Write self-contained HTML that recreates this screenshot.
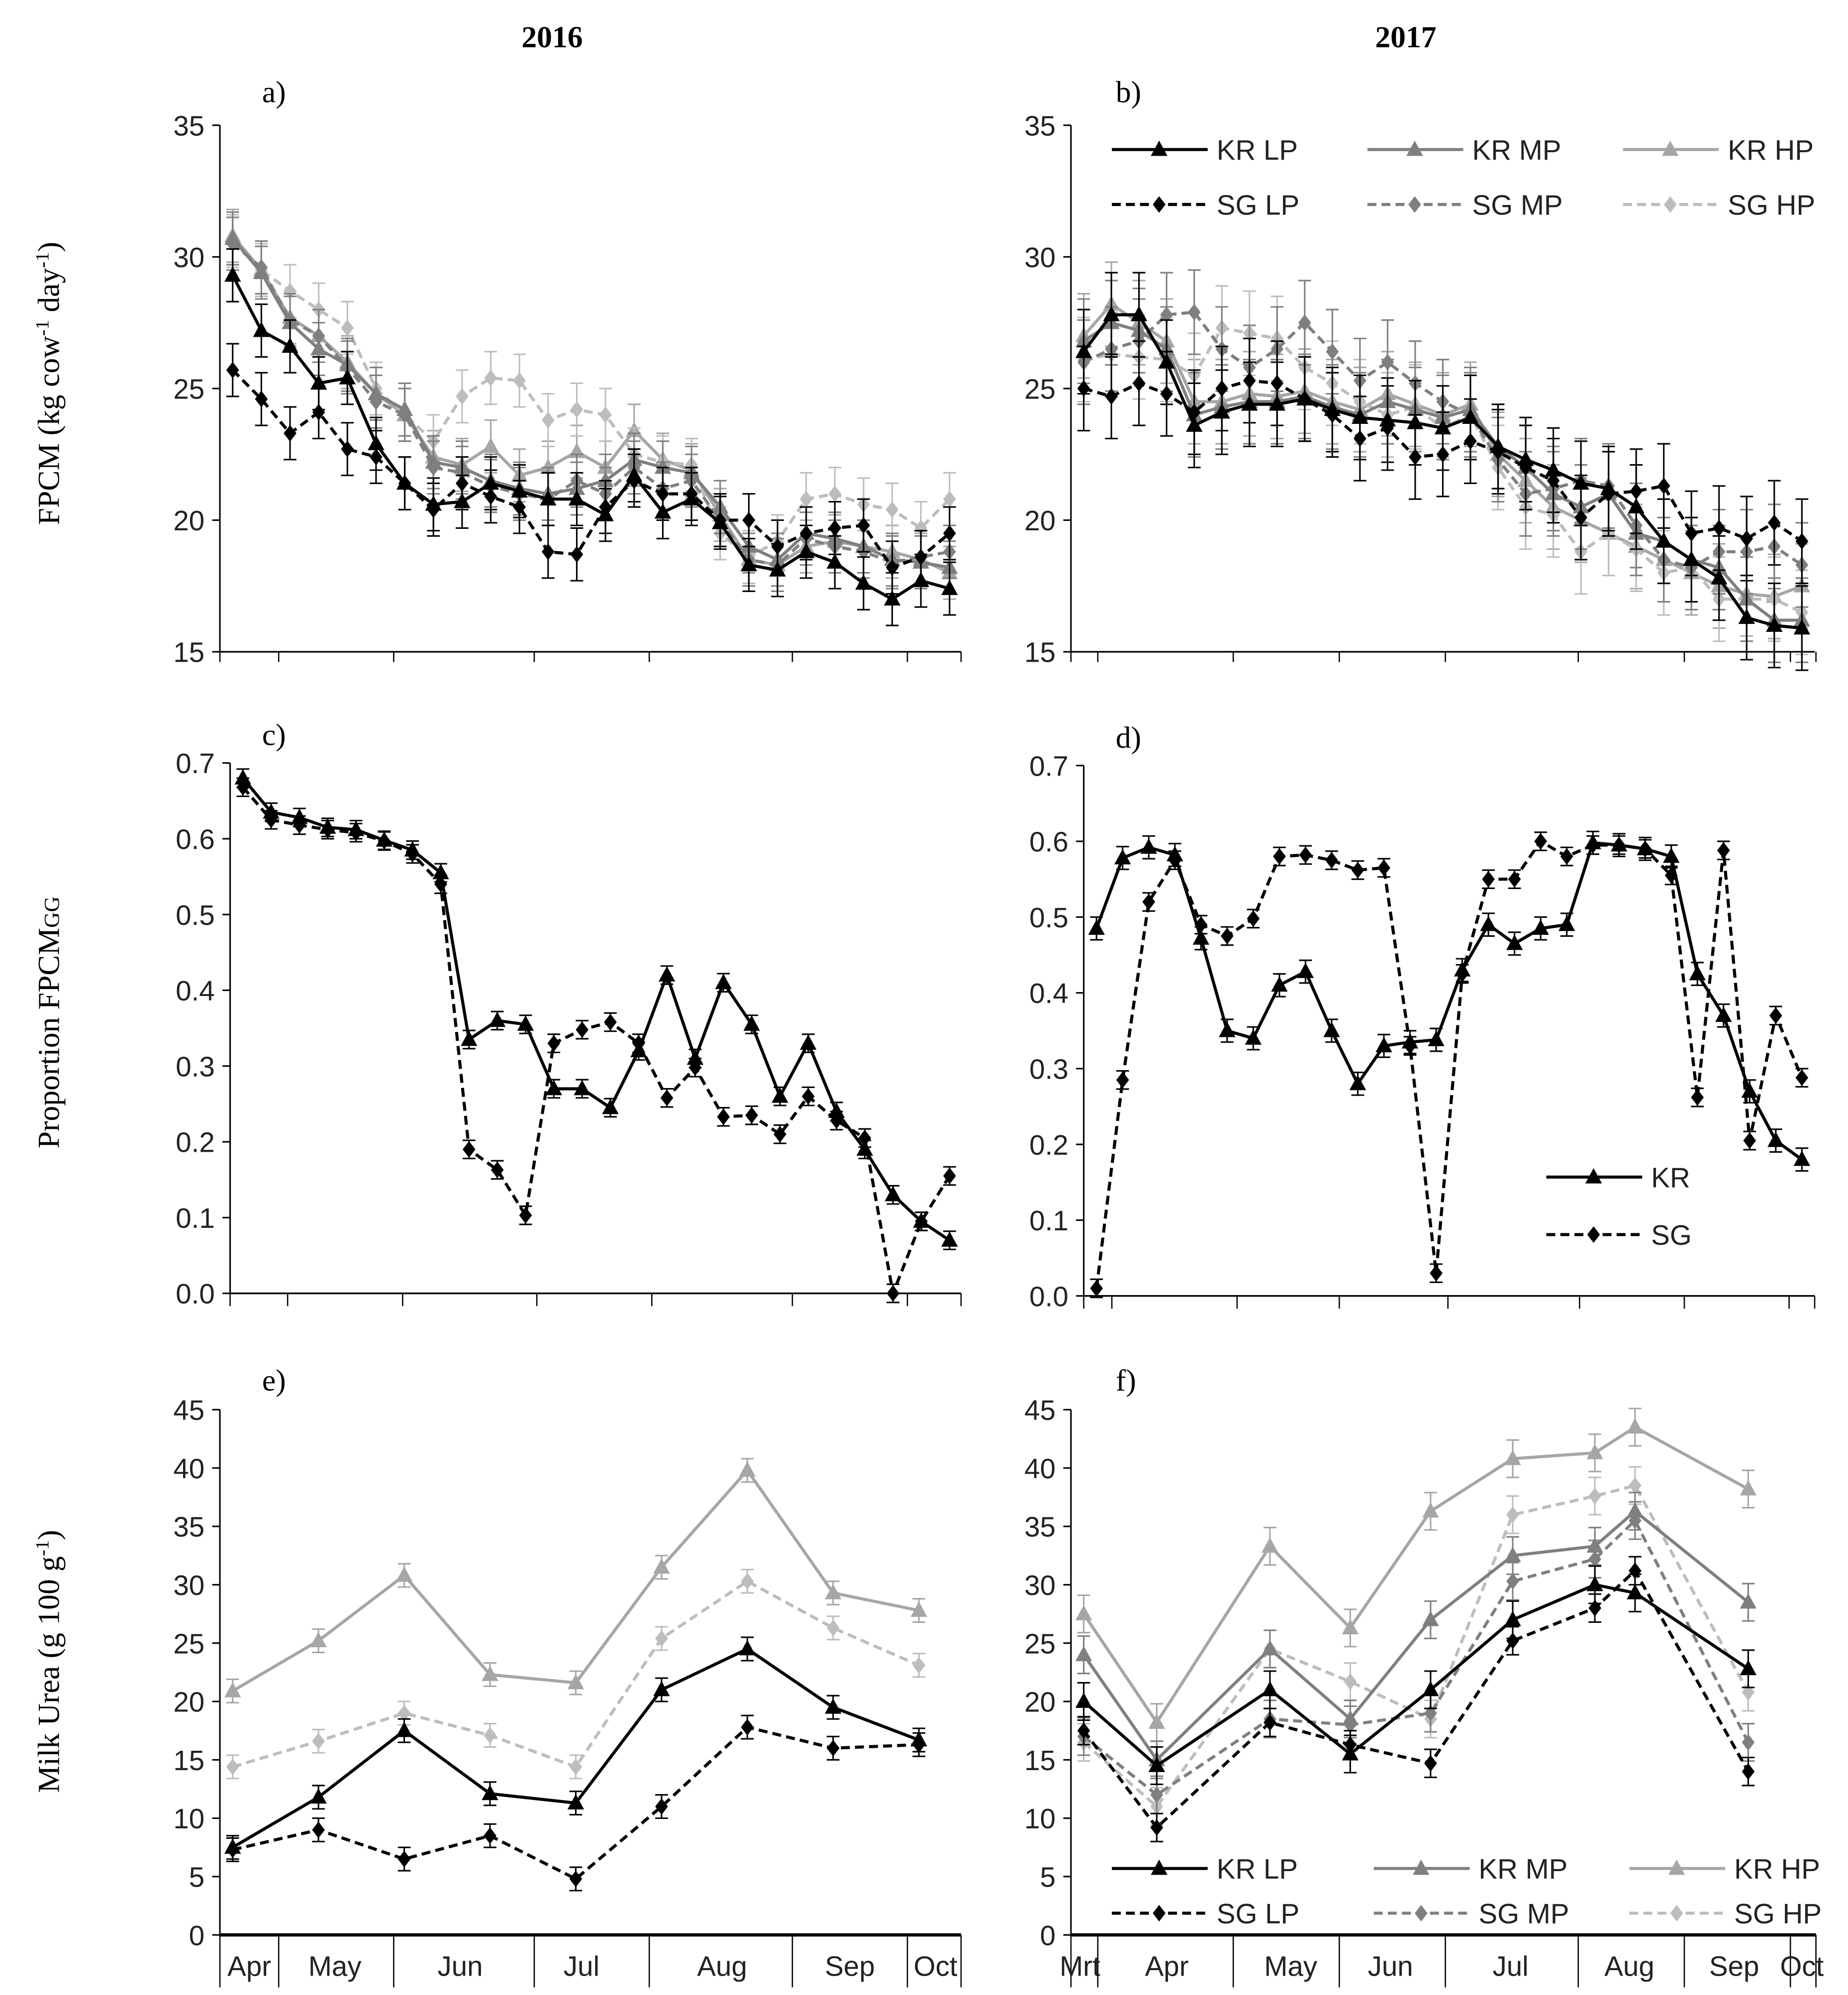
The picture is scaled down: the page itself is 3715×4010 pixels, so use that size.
<!DOCTYPE html>
<html><head><meta charset="utf-8"><style>
html,body{margin:0;padding:0;background:#fff}
svg{display:block}
text{font-family:"Liberation Sans",sans-serif}
.serif{font-family:"Liberation Serif",serif}
</style></head><body>
<svg id="fig" width="3715" height="4010" viewBox="0 0 1446 1561" xmlns="http://www.w3.org/2000/svg">
<rect width="1446" height="1561" fill="#fff"/>
<text class="serif" x="432" y="37" font-size="24" font-weight="bold" text-anchor="middle">2016</text>
<text class="serif" x="1100" y="37" font-size="24" font-weight="bold" text-anchor="middle">2017</text>
<text class="serif" x="205" y="80" font-size="24">a)</text>
<text class="serif" x="873" y="80" font-size="24">b)</text>
<text class="serif" x="205" y="583" font-size="24">c)</text>
<text class="serif" x="873" y="585" font-size="24">d)</text>
<text class="serif" x="205" y="1088" font-size="24">e)</text>
<text class="serif" x="873" y="1088" font-size="24">f)</text>
<text class="serif" transform="translate(46,300) rotate(-90)" font-size="24" text-anchor="middle">FPCM (kg cow<tspan baseline-shift="super" font-size="15">-1</tspan> day<tspan baseline-shift="super" font-size="15">-1</tspan>)</text>
<text class="serif" transform="translate(46,800) rotate(-90)" font-size="24" text-anchor="middle">Proportion FPCM<tspan font-size="17">GG</tspan></text>
<text class="serif" transform="translate(46,1300) rotate(-90)" font-size="24" text-anchor="middle">Milk Urea (g 100 g<tspan baseline-shift="super" font-size="15">-1</tspan>)</text>
</svg>
<script>
// ---- Panel a (2016 FPCM) ----
const aKRLP=[29.3,27.2,26.6,25.2,25.4,22.9,21.4,20.6,20.7,21.4,21.1,20.8,20.8,20.2,21.7,20.3,20.8,19.9,18.3,18.1,18.8,18.4,17.6,17.0,17.7,17.4];
const aKRMP=[30.7,29.4,27.5,26.5,25.9,24.8,24.2,22.2,22.0,21.5,21.2,21.0,21.2,21.5,22.3,22.0,21.8,20.5,19.0,18.5,19.5,19.3,19.0,18.5,18.4,18.2];
const aKRHP=[30.8,29.5,27.7,27.0,26.0,24.8,24.0,22.4,22.1,22.8,21.7,22.0,22.6,22.0,23.4,22.3,21.9,20.2,18.5,18.3,19.0,19.2,19.0,18.8,18.5,18.0];
const aSGLP=[25.7,24.6,23.3,24.1,22.7,22.4,21.4,20.4,21.4,20.9,20.5,18.8,18.7,20.5,21.5,21.0,21.0,20.0,20.0,19.0,19.5,19.7,19.8,18.2,18.6,19.5];
const aSGMP=[30.5,29.6,27.6,27.0,25.8,24.5,24.0,22.0,21.8,21.3,21.0,20.8,21.5,21.0,22.0,21.2,21.5,20.0,18.5,18.3,19.3,19.0,18.8,18.4,18.6,18.8];
const aSGHP=[30.6,29.5,28.7,28.0,27.3,25.0,24.0,23.0,24.7,25.4,25.3,23.8,24.2,24.0,22.5,22.2,22.1,19.5,18.6,19.2,20.8,21.0,20.6,20.4,19.7,20.8];
// ---- Panel b (2017 FPCM) ----
const bKRLP=[26.4,27.8,27.8,26.0,23.6,24.1,24.4,24.4,24.6,24.2,23.9,23.8,23.7,23.5,23.9,22.8,22.3,21.9,21.4,21.2,20.5,19.2,18.5,17.8,16.3,16.0,15.9];
const bKRMP=[26.8,27.5,27.2,26.5,24.0,24.3,24.5,24.5,24.7,24.3,24.0,24.5,24.2,23.9,24.2,22.8,22.0,21.0,20.5,21.0,19.5,19.2,18.5,18.2,17.0,16.2,16.2];
const bKRHP=[27.0,28.2,27.5,26.8,24.5,24.5,24.8,24.7,24.9,24.5,24.2,24.8,24.4,24.0,24.4,22.5,21.5,20.5,20.0,19.5,19.0,18.5,18.0,17.5,17.2,17.1,17.5];
const bSGLP=[25.0,24.7,25.2,24.8,24.1,25.0,25.3,25.2,24.6,24.0,23.1,23.5,22.4,22.5,23.0,22.6,22.0,21.5,20.1,21.0,21.1,21.3,19.5,19.7,19.3,19.9,19.2];
const bSGMP=[26.0,26.5,26.8,27.8,27.9,26.5,25.8,26.5,27.5,26.4,25.3,26.0,25.2,24.5,24.0,22.3,21.0,21.2,21.5,21.3,19.8,18.5,18.2,18.8,18.8,19.0,18.3];
const bSGHP=[26.1,26.3,26.2,26.1,25.5,27.3,27.1,26.9,25.8,25.2,24.5,24.0,24.3,23.5,24.0,22.0,20.5,20.2,18.8,19.5,18.9,18.0,18.2,17.0,17.0,17.0,16.5];
// ---- Panel c (2016 proportion) ----
const cKR=[0.68,0.635,0.628,0.615,0.612,0.598,0.585,0.555,0.335,0.36,0.355,0.27,0.27,0.245,0.32,0.42,0.31,0.41,0.355,0.26,0.33,0.24,0.19,0.13,0.095,0.07];
const cSG=[0.668,0.625,0.618,0.612,0.608,0.597,0.58,0.54,0.19,0.163,0.103,0.33,0.348,0.358,0.33,0.258,0.298,0.233,0.235,0.21,0.26,0.228,0.205,0.0,0.095,0.155];
// ---- Panel d (2017 proportion) ----
const dKR=[0.485,0.578,0.592,0.582,0.472,0.35,0.34,0.41,0.428,0.35,0.28,0.33,0.335,0.338,0.43,0.49,0.465,0.485,0.49,0.598,0.595,0.59,0.58,0.425,0.37,0.27,0.205,0.18];
const dSG=[0.01,0.285,0.52,0.575,0.49,0.475,0.498,0.58,0.582,0.575,0.562,0.565,0.33,0.03,0.425,0.55,0.55,0.6,0.58,0.595,0.595,0.59,0.555,0.262,0.588,0.205,0.37,0.288];
// ---- Panel e (2016 urea) ----
const eKRLP=[7.5,11.8,17.5,12.1,11.3,21.0,24.5,19.5,16.7];
const eSGLP=[7.3,9.0,6.5,8.5,4.8,11.0,17.8,16.0,16.3];
const eKRHP=[20.9,25.2,30.8,22.3,21.6,31.5,39.8,29.3,27.8];
const eSGHP=[14.4,16.6,19.0,17.1,14.4,25.4,30.3,26.3,23.1];
// ---- Panel f (2017 urea) ----
const fWeeks=[0,2,5.1,7.3,9.5,11.75,14,15.1,18.2];
const fKRLP=[20,14.5,21,15.5,21,27,30,29.3,22.8];
const fKRMP=[24,15,24.5,18.5,27,32.5,33.3,36.3,28.5];
const fKRHP=[27.5,18.2,33.3,26.3,36.3,40.8,41.3,43.5,38.2];
const fSGLP=[17.5,9.2,18.2,16.3,14.7,25.2,28,31.2,14];
const fSGMP=[17,12,18.5,18,19,30.3,32.2,35.5,16.5];
const fSGHP=[16.5,11,24.5,21.7,18.5,36,37.6,38.5,20.8];
const yTicksA=["15","20","25","30","35"];
const yTicksC=["0.0","0.1","0.2","0.3","0.4","0.5","0.6","0.7"];
const yTicksE=["0","5","10","15","20","25","30","35","40","45"];
const months16=["Apr","May","Jun","Jul","Aug","Sep","Oct"];
const months17=["Mrt","Apr","May","Jun","Jul","Aug","Sep","Oct"];

const NS="http://www.w3.org/2000/svg";
const svg=document.getElementById('fig');
function mk(tag,attrs,parent){const e=document.createElementNS(NS,tag);for(const k in attrs)e.setAttribute(k,attrs[k]);(parent||svg).appendChild(e);return e;}
const BLACK="#000",MID="#7f7f7f",LIGHT="#a6a6a6",LIGHT2="#bdbdbd";

function axes(name,x0,x1,yTop,yBot,ticks,seps,labels,labelXs,labelY,sepBottom,axisW){
  const g=mk('g',{});
  
  
  mk('line',{x1:x0,y1:yTop,x2:x0,y2:yBot,stroke:'#000','stroke-width':1.2},g);
  mk('line',{x1:x0,y1:yBot,x2:x1,y2:yBot,stroke:'#000','stroke-width':axisW||1.3},g);
  ticks.forEach((t,i)=>{const y=yBot-(yBot-yTop)*i/(ticks.length-1);
    mk('line',{x1:x0-6,y1:y,x2:x0,y2:y,stroke:'#000','stroke-width':1.2},g);
    const tx=mk('text',{x:x0-12,y:y+8,'font-size':22,'text-anchor':'end',fill:'#222'},g);tx.textContent=t;
    
    });
  seps.forEach(s=>mk('line',{x1:s,y1:yBot,x2:s,y2:sepBottom,stroke:'#000','stroke-width':1},g));
  if(labels)labels.forEach((l,i)=>{const tx=mk('text',{x:labelXs[i],y:labelY,'font-size':22,'text-anchor':'middle',fill:'#222'},g);tx.textContent=l;
    
    });
}
function series(name,xs,vals,ys,color,dash,marker,err){
  const g=mk('g',{});
  
  
  for(let i=0;i<vals.length;i++){const x=xs(i),y=ys(vals[i]),e=ys(vals[i]-err)-y;
    mk('line',{x1:x,y1:y-e,x2:x,y2:y+e,stroke:color,'stroke-width':1.2},g);
    mk('line',{x1:x-5,y1:y-e,x2:x+5,y2:y-e,stroke:color,'stroke-width':1.2},g);
    mk('line',{x1:x-5,y1:y+e,x2:x+5,y2:y+e,stroke:color,'stroke-width':1.2},g);}
  const pts=vals.map((v,i)=>xs(i)+','+ys(v)).join(' ');
  mk('polyline',{points:pts,fill:'none',stroke:color,'stroke-width':2.4,'stroke-dasharray':dash?'7,4':'none'},g);
  vals.forEach((v,i)=>{const m=drawMarker(xs(i),ys(v),color,marker,g);
    
    });
}
function drawMarker(x,y,color,marker,g){
  if(marker==='tri')return mk('polygon',{points:`${x},${y-7} ${x-6.5},${y+5} ${x+6.5},${y+5}`,fill:color},g);
  return mk('polygon',{points:`${x},${y-6.5} ${x+5},${y} ${x},${y+6.5} ${x-5},${y}`,fill:color},g);
}
function legendEntry(name,x,y,label,color,dash,marker){
  const g=mk('g',{});
  
  
  mk('line',{x1:x,y1:y,x2:x+75,y2:y,stroke:color,'stroke-width':2.4,'stroke-dasharray':dash?'7,4':'none'},g);
  drawMarker(x+37,y,color,marker,g);
  const t=mk('text',{x:x+82,y:y+8,'font-size':22,fill:'#222'},g);t.textContent=label;
}
function lin(d0,d1,r0,r1){return v=>r0+(v-d0)*(r1-r0)/(d1-d0);}

// Panel a
{const ys=lin(15,35,510,98),xs=i=>lin(0,aKRLP.length-1,182,743)(i);
axes('panel-a',172,752,98,510,yTicksA,[172,218,308,418,508,620,710,752],null,null,0,518);
series('a-kr-hp',xs,aKRHP,ys,LIGHT,false,'tri',1.0);
series('a-sg-hp',xs,aSGHP,ys,LIGHT2,true,'dia',1.0);
series('a-kr-mp',xs,aKRMP,ys,MID,false,'tri',1.0);
series('a-sg-mp',xs,aSGMP,ys,MID,true,'dia',1.0);
series('a-sg-lp',xs,aSGLP,ys,BLACK,true,'dia',1.0);
series('a-kr-lp',xs,aKRLP,ys,BLACK,false,'tri',1.0);}
// Panel b
{const ys=lin(15,35,510,98),xs=i=>lin(0,bKRLP.length-1,848,1410)(i);
axes('panel-b',838,1420,98,510,yTicksA,[838,859,965,1048,1131,1235,1318,1401,1421],null,null,0,518);
series('b-kr-hp',xs,bKRHP,ys,LIGHT,false,'tri',1.6);
series('b-sg-hp',xs,bSGHP,ys,LIGHT2,true,'dia',1.6);
series('b-kr-mp',xs,bKRMP,ys,MID,false,'tri',1.6);
series('b-sg-mp',xs,bSGMP,ys,MID,true,'dia',1.6);
series('b-sg-lp',xs,bSGLP,ys,BLACK,true,'dia',1.6);
series('b-kr-lp',xs,bKRLP,ys,BLACK,false,'tri',1.6);
legendEntry('legend-kr-lp',870,117,'KR LP',BLACK,false,'tri');
legendEntry('legend-kr-mp',1070,117,'KR MP',MID,false,'tri');
legendEntry('legend-kr-hp',1270,117,'KR HP',LIGHT,false,'tri');
legendEntry('legend-sg-lp',870,160,'SG LP',BLACK,true,'dia');
legendEntry('legend-sg-mp',1070,160,'SG MP',MID,true,'dia');
legendEntry('legend-sg-hp',1270,160,'SG HP',LIGHT2,true,'dia');}
// Panel c
{const ys=lin(0,0.7,1012,597),xs=i=>lin(0,cKR.length-1,190,743)(i);
axes('panel-c',180,752,597,1012,yTicksC,[180,225,315,420,510,620,710,752],null,null,0,1022);
series('c-sg',xs,cSG,ys,BLACK,true,'dia',0.012);
series('c-kr',xs,cKR,ys,BLACK,false,'tri',0.012);}
// Panel d
{const ys=lin(0,0.7,1014,599),xs=i=>lin(0,dKR.length-1,858,1410)(i);
axes('panel-d',848,1420,599,1014,yTicksC,[848,870,968,1048,1133,1236,1318,1400,1420],null,null,0,1024);
series('d-sg',xs,dSG,ys,BLACK,true,'dia',0.012);
series('d-kr',xs,dKR,ys,BLACK,false,'tri',0.015);
legendEntry('legend-kr',1210,921,'KR',BLACK,false,'tri');
legendEntry('legend-sg',1210,966,'SG',BLACK,true,'dia');}
// Panel e
{const ys=lin(0,45,1514,1103),xs=i=>lin(0,eKRLP.length-1,182,719)(i);
axes('panel-e',172,752,1103,1514,yTicksE,[172,218,308,418,508,620,710,752],months16,[195,262,360,455,565,665,732],1546,1555,2.5);
series('e-kr-hp',xs,eKRHP,ys,LIGHT,false,'tri',1.0);
series('e-sg-hp',xs,eSGHP,ys,LIGHT2,true,'dia',1.0);
series('e-kr-lp',xs,eKRLP,ys,BLACK,false,'tri',1.0);
series('e-sg-lp',xs,eSGLP,ys,BLACK,true,'dia',1.0);}
// Panel f
{const ys=lin(0,45,1514,1103),wx=lin(0,18.2,848,1368),xs=i=>wx(fWeeks[i]);
axes('panel-f',838,1421,1103,1514,yTicksE,[838,859,965,1048,1131,1235,1318,1401,1421],months17,[845,913,1010,1088,1182,1275,1357,1410],1546,1555,2.5);
series('f-kr-hp',xs,fKRHP,ys,LIGHT,false,'tri',1.6);
series('f-sg-hp',xs,fSGHP,ys,LIGHT2,true,'dia',1.6);
series('f-kr-mp',xs,fKRMP,ys,MID,false,'tri',1.6);
series('f-sg-mp',xs,fSGMP,ys,MID,true,'dia',1.6);
series('f-kr-lp',xs,fKRLP,ys,BLACK,false,'tri',1.6);
series('f-sg-lp',xs,fSGLP,ys,BLACK,true,'dia',1.2);
legendEntry('legend-f-kr-lp',870,1462,'KR LP',BLACK,false,'tri');
legendEntry('legend-f-kr-mp',1075,1462,'KR MP',MID,false,'tri');
legendEntry('legend-f-kr-hp',1275,1462,'KR HP',LIGHT,false,'tri');
legendEntry('legend-f-sg-lp',870,1497,'SG LP',BLACK,true,'dia');
legendEntry('legend-f-sg-mp',1075,1497,'SG MP',MID,true,'dia');
legendEntry('legend-f-sg-hp',1275,1497,'SG HP',LIGHT2,true,'dia');}
</script>
</body></html>
